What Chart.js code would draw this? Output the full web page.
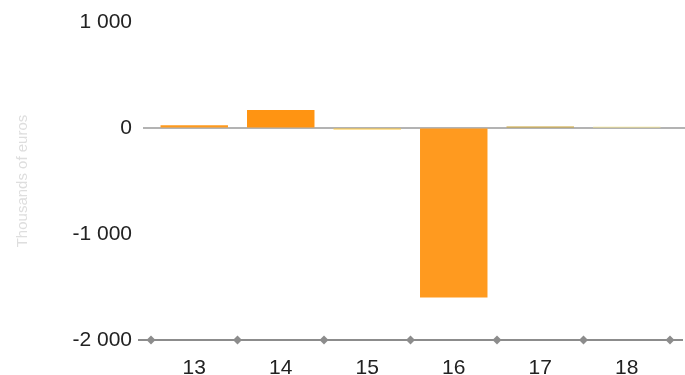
<!DOCTYPE html>
<html>
<head>
<meta charset="utf-8">
<script src="https://cdn.jsdelivr.net/npm/chart.js@4/dist/chart.umd.min.js"></script>
<style>
    html, body { margin:0; padding:0; background:#fff; }
    #wrap { width:685px; height:375px; position:relative; }
</style>
</head>
<body>
<div id="wrap"><canvas id="balanceChart"></canvas></div>
<script>

// ==========================================================
// Data
// ==========================================================

const years = ["13", "14", "15", "16", "17", "18"];

const balance = [25, 170, -15, -1600, 15, 12];

const barColors = ["#FF9A1C", "#FF9412", "#FFC83A", "#FF9A1F", "#C9A232", "#F2E48C"];

const yTicks = [-2000, -1000, 0, 1000];

const yTitle = "Thousands of euros";

// ==========================================================
// Helpers
// ==========================================================

function formatThousands(v){

    const s = Math.abs(v).toString().replace(/\B(?=(\d{3})+(?!\d))/g, " ");

    return (v < 0 ? "-" : "") + s;

}

function diamond(ctx, x, y){

    ctx.beginPath();
    ctx.moveTo(x - 4.5, y);
    ctx.lineTo(x, y - 4.5);
    ctx.lineTo(x + 4.5, y);
    ctx.lineTo(x, y + 4.5);
    ctx.closePath();
    ctx.fill();

}

// zero line under the bars, bottom axis with diamond markers on top
const axisLines = {

    id: "axisLines",

    beforeDatasetsDraw(chart){

        const ctx = chart.ctx;
        const area = chart.chartArea;
        const y0 = chart.scales.y.getPixelForValue(0);

        ctx.save();
        ctx.strokeStyle = "#9a9a9a";
        ctx.lineWidth = 1.5;
        ctx.beginPath();
        ctx.moveTo(area.left - 8, y0);
        ctx.lineTo(chart.width, y0);
        ctx.stroke();
        ctx.restore();

    },

    afterDraw(chart){

        const ctx = chart.ctx;
        const area = chart.chartArea;
        const x = chart.scales.x;
        const yb = chart.scales.y.getPixelForValue(yTicks[0]);

        ctx.save();
        ctx.strokeStyle = "#8c8c8c";
        ctx.fillStyle = "#8c8c8c";
        ctx.lineWidth = 2;
        ctx.beginPath();
        ctx.moveTo(area.left - 13, yb);
        ctx.lineTo(area.right + 13, yb);
        ctx.stroke();

        const half = (x.getPixelForValue(1) - x.getPixelForValue(0)) / 2;

        for(let i = 0; i < years.length; i++){
            diamond(ctx, x.getPixelForValue(i) - half, yb);
        }
        diamond(ctx, x.getPixelForValue(years.length - 1) + half, yb);

        ctx.restore();

    }

};

// ==========================================================
// Chart
// ==========================================================

const ctx = document.getElementById("balanceChart").getContext("2d");

new Chart(ctx, {

    type: "bar",

    data: {

        labels: years,

        datasets: [{

            data: balance,

            backgroundColor: barColors,

            borderWidth: 0,

            barPercentage: 0.78,

            categoryPercentage: 1

        }]

    },

    options: {

        responsive: true,

        maintainAspectRatio: false,

        animation: false,

        layout: {
            padding: { left: 4, right: 15, top: 22, bottom: 0 }
        },

        plugins: {
            legend: { display: false },
            tooltip: { enabled: false }
        },

        scales: {

            x: {

                grid: { display: false },

                border: { display: false },

                ticks: {
                    color: "#222",
                    padding: 8,
                    font: { family: "Liberation Sans", size: 21 }
                },

                afterFit(scale){ scale.height = 35; }

            },

            y: {

                min: yTicks[0],

                max: yTicks[yTicks.length - 1],

                afterBuildTicks(scale){
                    scale.ticks = yTicks.map(v => ({ value: v }));
                },

                grid: {
                    drawOnChartArea: false,
                    color: "rgba(0,0,0,0)",
                    tickColor: "rgba(0,0,0,0)",
                    tickLength: 12
                },

                border: { display: false },

                ticks: {
                    color: "#222",
                    padding: 7,
                    font: { family: "Liberation Sans", size: 21 },
                    callback: v => formatThousands(v)
                },

                title: {
                    display: true,
                    text: yTitle,
                    color: "#dedede",
                    padding: { top: 10, bottom: 0 },
                    font: { family: "Liberation Sans", size: 15 }
                },

                afterFit(scale){ scale.width = 147; }

            }

        }

    },

    plugins: [axisLines]

});

</script>
</body>
</html>
